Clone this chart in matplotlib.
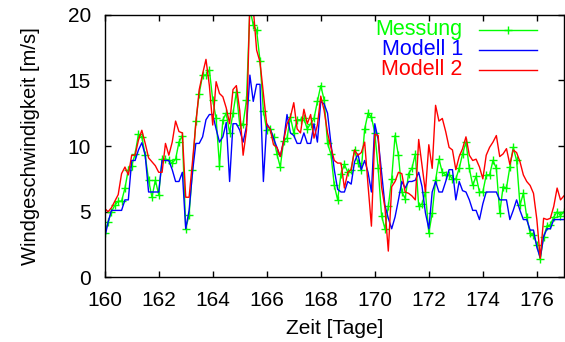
"""Windgeschwindigkeit: Messung vs. Modell 1 / Modell 2, Tage 160-177.

Gnuplot-artiger Stil: Ticks nach innen, gespiegelt, Legende oben rechts
mit rechtsbündigem, farbigem Text. Ausgabe: out.png (565x342 px).
"""

from __future__ import annotations

import matplotlib

matplotlib.use("Agg")  # headless
import matplotlib.pyplot as plt  # noqa: E402
import numpy as np  # noqa: E402

OUT_PNG = "out.png"

# Zeitachse: 3-stündige Werte (8 pro Tag), Tag 160 bis 177
T0, T1, DT = 160.0, 177.0, 0.125

MESSUNG = [
    3.35, 4.2, 5.0, 5.5, 5.8, 5.8, 6.8, 8.2, 8.5, 9.4,
    10.9, 10.7, 9.3, 7.4, 6.1, 7.4, 6.3, 9.0, 9.0, 8.9,
    8.7, 9.0, 10.3, 10.8, 3.7, 4.75, 8.2, 11.9, 14.0, 15.4,
    15.4, 15.8, 13.5, 12.1, 8.5, 12.0, 12.5, 11.0, 12.5, 14.1,
    11.6, 11.7, 13.5, 20.5, 19.2, 18.8, 16.5, 12.7, 11.2, 11.3,
    10.7, 9.4, 8.4, 10.4, 10.6, 12.2, 11.0, 12.0, 12.0, 12.1,
    11.3, 11.7, 12.1, 13.4, 14.6, 13.5, 10.2, 9.4, 7.0, 5.9,
    7.9, 8.6, 8.0, 8.2, 9.7, 8.7, 8.2, 11.3, 12.5, 12.2,
    11.0, 8.3, 4.7, 3.7, 5.4, 7.5, 10.8, 9.3, 6.5, 6.0,
    7.9, 8.3, 9.4, 5.4, 5.6, 6.5, 3.35, 4.9, 7.4, 9.0,
    8.0, 7.8, 7.8, 7.5, 7.5, 8.3, 9.4, 10.3, 8.3, 7.0,
    7.7, 6.5, 6.5, 7.8, 7.8, 8.9, 8.3, 4.9, 6.9, 6.8,
    8.4, 9.9, 8.9, 5.5, 6.4, 4.6, 3.35, 3.2, 2.5, 1.4,
    3.1, 3.9, 4.0, 4.6, 5.0, 4.7, 5.0,
]
MODELL_1 = [
    3.0, 4.2, 5.1, 5.1, 5.1, 5.1, 5.9, 5.9, 8.9, 8.9,
    9.7, 10.25, 9.3, 6.5, 6.5, 6.5, 6.5, 8.9, 8.9, 8.9,
    8.2, 7.3, 7.3, 8.0, 3.7, 5.1, 8.0, 10.2, 10.2, 10.7,
    12.0, 12.4, 12.4, 11.3, 10.3, 10.7, 11.8, 7.3, 11.7, 11.7,
    11.2, 10.3, 11.5, 15.4, 13.4, 14.7, 14.7, 7.3, 11.7, 11.3,
    10.6, 9.9, 9.2, 10.4, 12.4, 11.0, 10.8, 10.2, 10.2, 11.0,
    10.2, 10.2, 11.7, 10.3, 13.4, 13.2, 12.5, 10.2, 8.2, 6.7,
    6.5, 6.5, 7.3, 7.1, 8.8, 9.4, 8.2, 8.9, 8.0, 6.5,
    11.7, 10.5, 8.0, 5.5, 4.5, 3.7, 4.6, 5.9, 7.3, 6.8,
    7.3, 7.3, 7.4, 8.0, 6.9, 4.9, 3.7, 6.5, 7.3, 6.5,
    6.5, 7.3, 8.2, 8.2, 5.9, 7.3, 6.6, 6.5, 5.9, 5.1,
    5.1, 4.4, 5.6, 6.5, 6.5, 6.5, 6.5, 5.9, 5.9, 5.9,
    4.4, 5.1, 5.9, 5.1, 4.4, 4.4, 3.6, 3.6, 2.3, 1.5,
    3.1, 3.7, 3.7, 4.4, 4.4, 4.4, 4.4,
]
MODELL_2 = [
    5.25, 5.0, 5.3, 5.8, 6.3, 7.9, 8.4, 7.8, 9.3, 9.3,
    10.45, 11.2, 10.2, 9.1, 8.8, 8.5, 8.0, 8.0, 10.2, 9.3,
    10.3, 11.9, 11.1, 11.0, 6.1, 6.1, 8.8, 11.7, 14.3, 15.5,
    16.6, 14.6, 11.6, 14.9, 14.0, 13.75, 12.9, 11.7, 14.3, 14.6,
    12.7, 9.3, 11.2, 21.0, 20.5, 17.3, 16.4, 14.0, 11.6, 11.3,
    10.1, 9.9, 9.2, 10.4, 11.7, 12.2, 13.3, 11.3, 11.0, 12.8,
    11.7, 12.4, 10.6, 11.6, 13.8, 12.7, 11.0, 9.9, 8.9, 8.7,
    8.7, 6.8, 8.0, 8.2, 9.7, 9.3, 9.5, 10.3, 7.0, 3.9,
    10.9, 10.8, 6.9, 5.3, 2.0, 6.9, 7.3, 8.0, 7.9, 6.5,
    6.4, 6.2, 5.9, 10.5, 8.5, 6.5, 10.1, 8.3, 13.1, 11.9,
    12.1, 11.1, 9.9, 9.7, 8.2, 9.2, 9.8, 10.7, 9.3, 8.9,
    9.0, 8.4, 7.5, 9.3, 9.9, 10.3, 10.8, 9.2, 9.4, 9.8,
    8.6, 9.7, 9.5, 8.8, 7.8, 7.3, 7.0, 6.4, 4.4, 1.45,
    4.5, 4.4, 4.5, 5.4, 6.8, 5.9, 6.2,
]

LABELS = ["Messung", "Modell 1", "Modell 2"]
COLORS = ["#00ff00", "#0000ff", "#ff0000"]
XTICKS = [160, 162, 164, 166, 168, 170, 172, 174, 176]
YTICKS = [0, 5, 10, 15, 20]


def main() -> None:
    plt.rcParams["font.family"] = ["Liberation Sans", "DejaVu Sans"]
    t = np.arange(T0, T1 + DT / 2, DT)

    fig = plt.figure(figsize=(5.65, 3.42), dpi=100)
    ax = fig.add_axes([0.1853, 0.189, 0.8127, 0.768])

    series = [MESSUNG, MODELL_1, MODELL_2]
    for vals, col, lab in zip(series, COLORS, LABELS):
        mk = "+" if lab == "Messung" else None
        ax.plot(t[:len(vals)], vals, color=col, lw=1.0, marker=mk,
                markersize=6, markeredgewidth=1.0, clip_on=True)

    ax.set_xlim(T0, T1)
    ax.set_ylim(0, 20)
    ax.set_xticks(XTICKS)
    ax.set_yticks(YTICKS)
    ax.tick_params(direction="in", top=True, right=True, length=4,
                   width=1.0, labelsize=15, pad=10)
    ax.tick_params(axis="x", pad=10)
    for s in ax.spines.values():
        s.set_linewidth(1.0)
    ax.set_xlabel("Zeit [Tage]", fontsize=15, labelpad=6)
    ax.set_ylabel("Windgeschwindigkeit [m/s]", fontsize=14.5, labelpad=20)

    # Legende im gnuplot-Stil: Text rechtsbündig, Linienprobe rechts daneben
    rows_y = [0.942, 0.866, 0.790]
    for lab, col, y in zip(LABELS, COLORS, rows_y):
        ax.text(0.780, y, lab, color=col, fontsize=15.5, ha="right",
                va="center", transform=ax.transAxes)
        ax.plot([0.815, 0.941], [y, y], color=col, lw=1.0,
                transform=ax.transAxes)
        if lab == "Messung":
            ax.plot([0.878], [y], color=col, marker="+", markersize=6,
                    transform=ax.transAxes)

    fig.savefig(OUT_PNG, dpi=100)
    plt.close(fig)


if __name__ == "__main__":
    main()
